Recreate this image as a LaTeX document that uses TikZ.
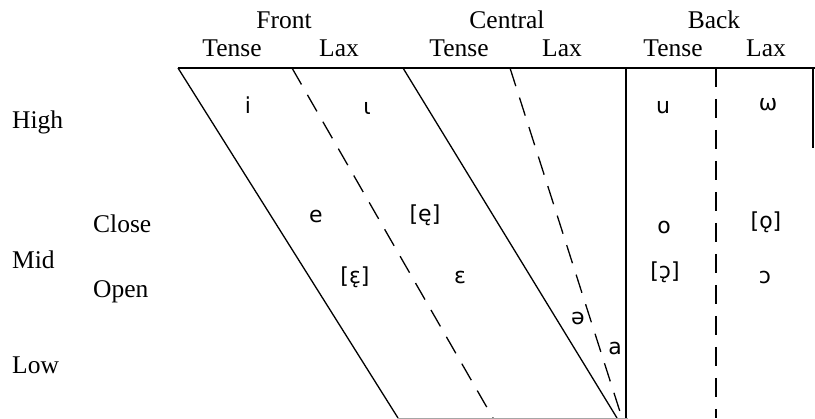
\documentclass[tikz,border=0pt]{standalone}
\usepackage{fontspec}
\setmainfont{Liberation Serif}
\newfontfamily\ipafont{DejaVu Sans}
\begin{document}
\begin{tikzpicture}[x=1pt,y=-1pt,
  lab/.style={font=\fontsize{25.5}{30}\selectfont, inner sep=0pt, anchor=base},
  side/.style={font=\fontsize{25.5}{30}\selectfont, inner sep=0pt, anchor=base west},
  vow/.style={font=\ipafont\fontsize{22}{26}\selectfont, inner sep=0pt},
  solidl/.style={line width=1.3pt},
  dashl/.style={line width=1.3pt, dash pattern=on 19pt off 12pt},
  faint/.style={line width=0.7pt, gray!70}]
\useasboundingbox (0,0) rectangle (815,419);

% frame coordinates
\coordinate (tl) at (178,68);
\coordinate (tr) at (815,68);
\coordinate (fdt) at (292,68);
\coordinate (fdb) at (493,418);
\coordinate (cst) at (403,68);
\coordinate (csb) at (617,418);
\coordinate (cdt) at (510,68);
\coordinate (cdb) at (622,418);
\coordinate (bst) at (626,68);
\coordinate (bsb) at (626,418);
\coordinate (bdt) at (716,68);
\coordinate (bdb) at (716,418);
\coordinate (ret) at (813,68);
\coordinate (reb) at (813,148);
\coordinate (bl) at (398,418);
\coordinate (br) at (628,418);

\draw[solidl] (tl) -- (tr);
\draw[solidl] (tl) -- (bl);
\draw[dashl] (fdt) -- (fdb);
\draw[solidl] (cst) -- (csb);
\draw[dashl] (cdt) -- (cdb);
\draw[solidl] (bst) -- (bsb);
\draw[dashl] (bdt) -- (bdb);
\draw[solidl] (ret) -- (reb);
\draw[faint] (bl) -- (br);

% headers
\node[lab] (front) at (284,29) {Front};
\node[lab] (central) at (507,29) {Central};
\node[lab] (back) at (714,29) {Back};
\node[lab] (ft) at (232,57) {Tense};
\node[lab] (fl) at (339,57) {Lax};
\node[lab] (ct) at (459,57) {Tense};
\node[lab] (cl) at (562,57) {Lax};
\node[lab] (bt) at (673,57) {Tense};
\node[lab] (blx) at (766,57) {Lax};

% side labels
\node[side] (high) at (12,129) {High};
\node[side] (close) at (93,233) {Close};
\node[side] (mid) at (12,269) {Mid};
\node[side] (open) at (93,298) {Open};
\node[side] (low) at (12,374) {Low};

% vowels
\node[vow] (vi) at (248,105) {i};
\node[vow] (viota) at (367,108) {ι};
\node[vow] (vu) at (663,107) {u};
\node[vow] (vom) at (768,105) {ω};
\node[vow] (ve) at (316,216) {e};
\node[vow] (veh) at (425,215) {[ę]};
\node[vow] (veps) at (460,277) {ɛ};
\node[vow] (vepsh) at (355,277) {[ɛ̨]};
\node[vow] (vo) at (664,227) {o};
\node[vow] (voh) at (766,222) {[ǫ]};
\node[vow] (vop) at (765,277) {ɔ};
\node[vow] (voph) at (665,272) {[ɔ̨]};
\node[vow] (vschwa) at (578,318) {ə};
\node[vow] (va) at (615,348) {a};
\end{tikzpicture}
\end{document}
